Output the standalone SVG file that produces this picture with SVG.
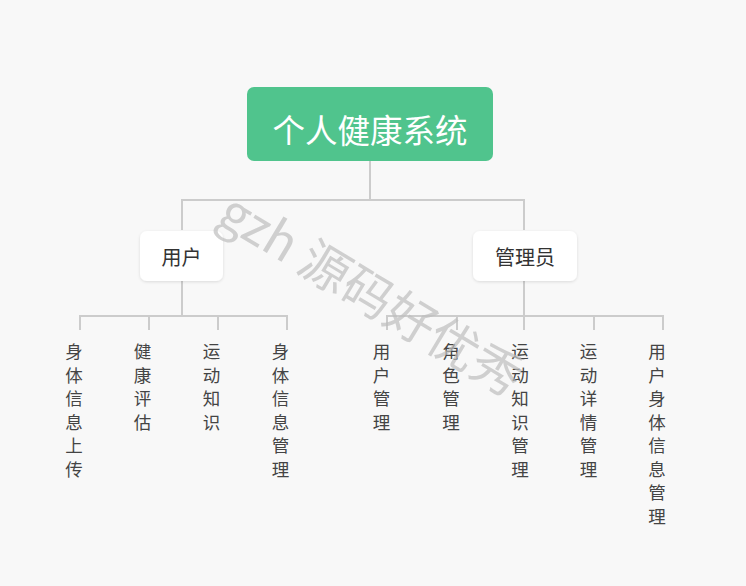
<svg xmlns="http://www.w3.org/2000/svg" width="746" height="586" viewBox="0 0 746 586">
<defs>
<style>
.conn{fill:none;stroke:#cccccc;stroke-width:2}
.root{fill:#50c48d}
.rootText{font-family:"Noto Sans CJK SC","Noto Sans",sans-serif;font-size:32.5px;fill:#ffffff;text-anchor:middle;dominant-baseline:central}
.mid{fill:#ffffff;filter:url(#sh)}
.midText{font-family:"Noto Sans CJK SC","Noto Sans",sans-serif;font-size:20px;fill:#333333;text-anchor:middle;dominant-baseline:central}
.leaf{font-family:"Noto Sans CJK SC","Noto Sans",sans-serif;font-size:17.5px;fill:#444444;text-anchor:middle;dominant-baseline:central}
.wm{font-family:"Noto Sans CJK SC","Noto Sans",sans-serif;font-size:50px;font-weight:400;fill:#bdbdbd;fill-opacity:0.7}
</style>
<filter id="sh" x="-20%" y="-30%" width="140%" height="160%">
<feDropShadow dx="0" dy="1" stdDeviation="1.5" flood-color="#000000" flood-opacity="0.12"/>
</filter>
</defs>
<rect width="746" height="586" fill="#f8f8f8"/>
<g id="connectors">
<path class="conn" d="M370 161 V200 M182 230 V200 H524 V230"/>
<path class="conn" d="M182 281 V316 M80 330 V316 H287 V330 M149 316 V330 M218 316 V330"/>
<path class="conn" d="M524 281 V316 M387 330 V316 H663 V330 M457 316 V330 M524 316 V330 M594 316 V330"/>
</g>
<g id="root">
<rect class="root" x="247" y="87" width="246" height="74" rx="7"/>
<text class="rootText" x="370" y="128">个人健康系统</text>
</g>
<g id="user">
<rect class="mid" x="140" y="231" width="83" height="50" rx="7"/>
<text class="midText" x="181.5" y="256">用户</text>
</g>
<g id="admin">
<rect class="mid" x="473" y="231" width="104" height="50" rx="7"/>
<text class="midText" x="525" y="256">管理员</text>
</g>
<g id="leaf-u1"><text class="leaf" x="74"><tspan x="74" y="350">身</tspan><tspan x="74" y="373.5">体</tspan><tspan x="74" y="397">信</tspan><tspan x="74" y="420.5">息</tspan><tspan x="74" y="444">上</tspan><tspan x="74" y="467.5">传</tspan></text></g>
<g id="leaf-u2"><text class="leaf" x="142.5"><tspan x="142.5" y="350">健</tspan><tspan x="142.5" y="373.5">康</tspan><tspan x="142.5" y="397">评</tspan><tspan x="142.5" y="420.5">估</tspan></text></g>
<g id="leaf-u3"><text class="leaf" x="211.5"><tspan x="211.5" y="350">运</tspan><tspan x="211.5" y="373.5">动</tspan><tspan x="211.5" y="397">知</tspan><tspan x="211.5" y="420.5">识</tspan></text></g>
<g id="leaf-u4"><text class="leaf" x="280.5"><tspan x="280.5" y="350">身</tspan><tspan x="280.5" y="373.5">体</tspan><tspan x="280.5" y="397">信</tspan><tspan x="280.5" y="420.5">息</tspan><tspan x="280.5" y="444">管</tspan><tspan x="280.5" y="467.5">理</tspan></text></g>
<g id="leaf-a1"><text class="leaf" x="381.5"><tspan x="381.5" y="350">用</tspan><tspan x="381.5" y="373.5">户</tspan><tspan x="381.5" y="397">管</tspan><tspan x="381.5" y="420.5">理</tspan></text></g>
<g id="leaf-a2"><text class="leaf" x="451"><tspan x="451" y="350">角</tspan><tspan x="451" y="373.5">色</tspan><tspan x="451" y="397">管</tspan><tspan x="451" y="420.5">理</tspan></text></g>
<g id="leaf-a3"><text class="leaf" x="520"><tspan x="520" y="350">运</tspan><tspan x="520" y="373.5">动</tspan><tspan x="520" y="397">知</tspan><tspan x="520" y="420.5">识</tspan><tspan x="520" y="444">管</tspan><tspan x="520" y="467.5">理</tspan></text></g>
<g id="leaf-a4"><text class="leaf" x="588.5"><tspan x="588.5" y="350">运</tspan><tspan x="588.5" y="373.5">动</tspan><tspan x="588.5" y="397">详</tspan><tspan x="588.5" y="420.5">情</tspan><tspan x="588.5" y="444">管</tspan><tspan x="588.5" y="467.5">理</tspan></text></g>
<g id="leaf-a5"><text class="leaf" x="657"><tspan x="657" y="350">用</tspan><tspan x="657" y="373.5">户</tspan><tspan x="657" y="397">身</tspan><tspan x="657" y="420.5">体</tspan><tspan x="657" y="444">信</tspan><tspan x="657" y="467.5">息</tspan><tspan x="657" y="491">管</tspan><tspan x="657" y="514.5">理</tspan></text></g>
<text class="wm" x="215" y="222" transform="rotate(31 215 222)">gzh 源码好优秀</text>
</svg>
